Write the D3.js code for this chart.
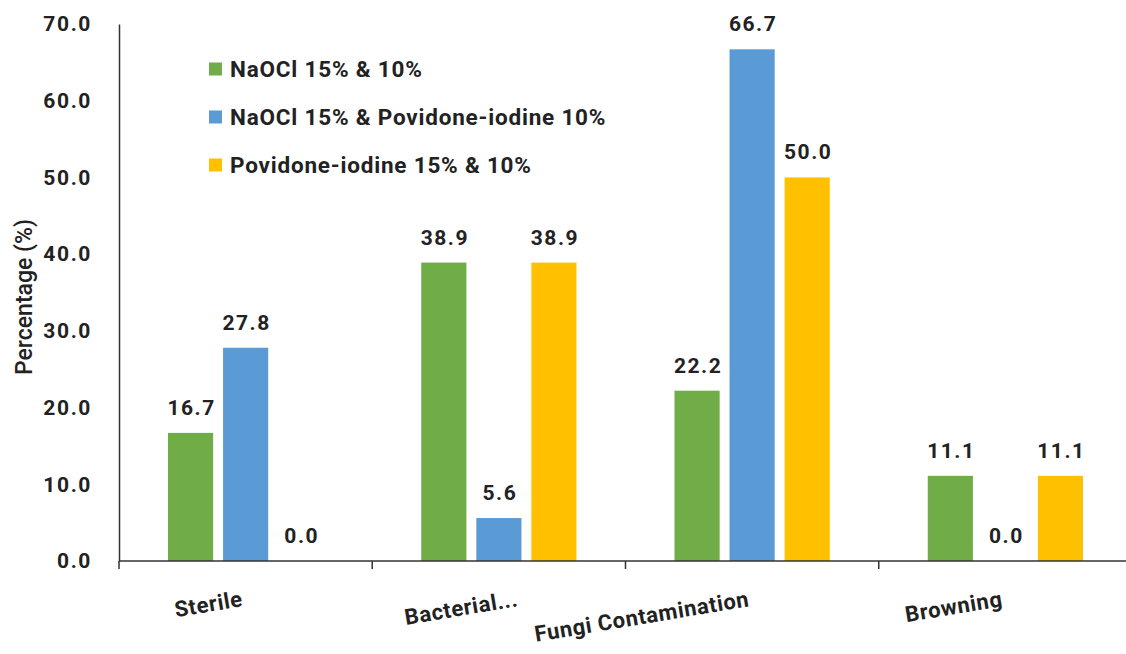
<!DOCTYPE html>
<html><head><meta charset="utf-8">
<script src="https://cdn.jsdelivr.net/npm/d3@7"></script>
<style>body{margin:0;background:#fff;} text{font-family:Roboto, "Noto Sans", sans-serif;}</style>
</head><body>
<svg id="chart" width="1126" height="654"></svg>
<script>
const categories = ["Sterile", "Bacterial...", "Fungi Contamination", "Browning"];
const seriesNames = ["NaOCl 15% & 10%", "NaOCl 15% & Povidone-iodine 10%", "Povidone-iodine 15% & 10%"];
const seriesColors = ["#70AD47", "#5B9BD5", "#FFC000"];
const naocl = [16.7, 38.9, 22.2, 11.1];
const naoclPovidone = [27.8, 5.6, 66.7, 0.0];
const povidone = [0.0, 38.9, 50.0, 11.1];
const yTicks = [0, 10, 20, 30, 40, 50, 60, 70];
const yLabel = "Percentage (%)";

const seriesValues = [naocl, naoclPovidone, povidone];
const svg = d3.select("#chart");
const plotLeft = 119, plotRight = 1132, plotTop = 24, plotBottom = 561;

const x0 = d3.scaleBand().domain(categories).range([plotLeft, plotRight]).paddingInner(0).paddingOuter(0);
const x1 = d3.scaleBand().domain(d3.range(3)).range([49, x0.bandwidth() - 49]).paddingInner(0.18).paddingOuter(0);
const y = d3.scaleLinear().domain([0, 70]).range([plotBottom, plotTop]);

// bars
const g = svg.append("g");
categories.forEach((c, ci) => {
  seriesValues.forEach((vals, si) => {
    const v = vals[ci];
    const bx = x0(c) + x1(si);
    g.append("rect").attr("x", bx).attr("y", y(v)).attr("width", x1.bandwidth())
      .attr("height", plotBottom - y(v)).attr("fill", seriesColors[si]);
    g.append("text").attr("x", bx + x1.bandwidth() / 2 + 1).attr("y", y(v) - 18)
      .attr("text-anchor", "middle").attr("font-size", 21).attr("font-weight", "bold")
      .attr("letter-spacing", 1.5).attr("fill", "#222").text(v.toFixed(1));
  });
});

// y axis
const yAxis = d3.axisLeft(y).tickValues(yTicks).tickSize(0).tickPadding(27).tickFormat(d => d.toFixed(1));
const ya = svg.append("g").attr("transform", `translate(${plotLeft},0)`).call(yAxis);
ya.select(".domain").attr("stroke", "#333").attr("stroke-width", 1.5);
ya.selectAll("text").attr("font-size", 21).attr("font-weight", "bold").attr("fill", "#222")
  .attr("font-family", "Roboto").attr("letter-spacing", 1.6);

// x axis
const xa = svg.append("g").attr("transform", `translate(0,${plotBottom})`);
xa.append("line").attr("x1", plotLeft).attr("x2", 1126).attr("y1", 0).attr("y2", 0)
  .attr("stroke", "#333").attr("stroke-width", 1.5);
categories.forEach((c, i) => {
  xa.append("line").attr("x1", x0(c)).attr("x2", x0(c)).attr("y1", 0).attr("y2", 8)
    .attr("stroke", "#333").attr("stroke-width", 1.5);
  const cx = x0(c) + x0.bandwidth() / 2;
  const shift = c.endsWith("...") ? 20 : -2;
  xa.append("text").attr("transform", `translate(${cx + shift},${45}) rotate(-9.5)`)
    .attr("text-anchor", "end").attr("font-size", 22).attr("font-weight", "bold")
    .attr("fill", "#222").attr("letter-spacing", 0.6).text(c);
});

// y label
svg.append("text").attr("transform", `translate(32,297) rotate(-90)`).attr("text-anchor", "middle")
  .attr("font-size", 23).attr("font-weight", 500).attr("fill", "#222").text(yLabel);

// legend
const lg = svg.append("g");
seriesNames.forEach((n, i) => {
  const ly = 69 + i * 48;
  lg.append("rect").attr("x", 209).attr("y", ly - 6.5).attr("width", 13).attr("height", 13).attr("fill", seriesColors[i]);
  lg.append("text").attr("x", 230).attr("y", ly + 8).attr("font-size", 22.5).attr("font-weight", "bold")
    .attr("fill", "#222").attr("letter-spacing", 0.8).text(n);
});
</script>
</body></html>
